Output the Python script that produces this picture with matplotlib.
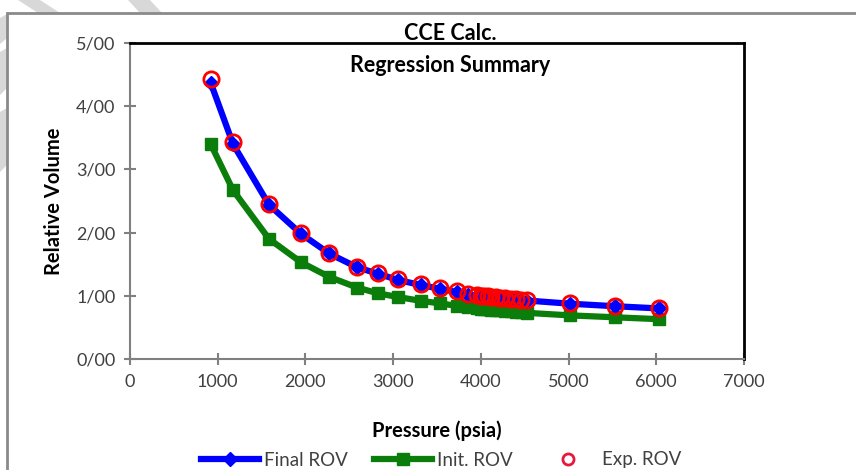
import matplotlib.pyplot as plt
from matplotlib.patches import Rectangle, Polygon
from matplotlib.ticker import FuncFormatter

# CCE regression data: pressure (psia) vs relative volume
pressure = [920, 1175, 1585, 1950, 2270, 2590, 2825, 3057, 3316, 3535, 3729, 3854,
            3960, 4000, 4040, 4080, 4120, 4170, 4220, 4280, 4340, 4400, 4460, 4527,
            5017, 5530, 6032]
exp_rov = [4.43, 3.43, 2.45, 1.99, 1.68, 1.46, 1.36, 1.26, 1.18, 1.12, 1.07, 1.03,
           1.01, 1.00, 0.995, 0.99, 0.98, 0.975, 0.97, 0.96, 0.955, 0.95, 0.94, 0.93,
           0.88, 0.84, 0.80]
final_rov = [4.37, 3.40, 2.44, 1.98, 1.67, 1.45, 1.35, 1.25, 1.17, 1.11, 1.06, 1.02,
             1.00, 0.99, 0.985, 0.98, 0.97, 0.965, 0.96, 0.955, 0.95, 0.945, 0.935, 0.925,
             0.875, 0.835, 0.80]
init_rov = [3.40, 2.67, 1.90, 1.53, 1.30, 1.13, 1.04, 0.98, 0.92, 0.88, 0.84, 0.82,
            0.80, 0.795, 0.79, 0.785, 0.78, 0.775, 0.77, 0.76, 0.755, 0.75, 0.74, 0.73,
            0.69, 0.66, 0.63]

x_ticks = [0, 1000, 2000, 3000, 4000, 5000, 6000, 7000]
y_ticks = [0, 1, 2, 3, 4, 5]

W, H = 856, 470
plt.rcParams['font.family'] = ['Lato', 'DejaVu Sans']

fig = plt.figure(figsize=(W / 100, H / 100), dpi=100)
fig.patch.set_facecolor('white')

# faint stripes in the outer margin
stripe_col = '#d8d8d8'
for pts in [
    [(18, 0), (40, 0), (60, 13), (38, 13)],
    [(128, 0), (150, 0), (162, 13), (140, 13)],
    [(0, 18), (7, 14), (7, 38), (0, 44)],
    [(0, 52), (7, 48), (7, 88), (0, 95)],
    [(0, 112), (7, 108), (7, 165), (0, 172)],
]:
    fig.patches.append(Polygon([(px / W, 1 - py / H) for px, py in pts], closed=True,
                               transform=fig.transFigure, facecolor=stripe_col,
                               edgecolor='none', zorder=0))

# outer chart frame
fig.patches.append(Rectangle((7 / W, -0.02), 1.0, 1 - 13 / H + 0.02,
                             transform=fig.transFigure, fill=False,
                             edgecolor='#8a8a8a', linewidth=2, zorder=1))

ax = fig.add_axes([130 / W, 1 - 359 / H, (744 - 130) / W, (359 - 43) / H])

ax.plot(pressure, final_rov, color='#0000ff', linewidth=4.5, marker='D', markersize=7,
        markerfacecolor='#0000ff', markeredgecolor='#0000ff', label='Final ROV', zorder=3)
ax.plot(pressure, init_rov, color='#0a7d0a', linewidth=4.5, marker='s', markersize=9,
        markerfacecolor='#0a7d0a', markeredgecolor='#0a7d0a', label='Init. ROV', zorder=2)
ax.plot(pressure, exp_rov, linestyle='none', marker='o', markersize=11,
        markerfacecolor='none', markeredgecolor='#ff0000', markeredgewidth=2,
        label='Exp. ROV', zorder=4)

ax.set_xlim(0, 7000)
ax.set_ylim(0, 5)
ax.set_xticks(x_ticks)
ax.set_yticks(y_ticks)
ax.yaxis.set_major_formatter(FuncFormatter(lambda v, p: '%d/00' % int(round(v))))

for side in ['left', 'bottom']:
    ax.spines[side].set_color('#808080')
    ax.spines[side].set_linewidth(1.5)
for side in ['top', 'right']:
    ax.spines[side].set_color('black')
    ax.spines[side].set_linewidth(2)

ax.tick_params(direction='inout', length=9, width=1.5, color='#808080',
               labelsize=13, labelcolor='#404040', pad=6)

ax.set_xlabel('Pressure (psia)', fontsize=14.5, fontweight='bold', labelpad=22)
ax.set_ylabel('Relative Volume', fontsize=14.5, fontweight='bold', labelpad=9)

fig.text(450 / W, 1 - 33 / H, 'CCE Calc.', ha='center', va='center',
         fontsize=15.5, fontweight='bold')
fig.text(450 / W, 1 - 66 / H, 'Regression Summary', ha='center', va='center',
         fontsize=15.5, fontweight='bold')

leg = fig.legend(loc='center', bbox_to_anchor=(441 / W, 1 - 460 / H), ncol=3,
                 frameon=False, fontsize=13.5, handlelength=3.1, columnspacing=1.4,
                 handletextpad=0.25, borderaxespad=0)
for t in leg.get_texts():
    t.set_color('#404040')
# smaller open circle for the experimental entry in the legend
leg.legend_handles[2].set_markersize(8)
leg.legend_handles[2].set_markeredgecolor('#e8173f')

fig.savefig('out.png', dpi=100, facecolor='white')
